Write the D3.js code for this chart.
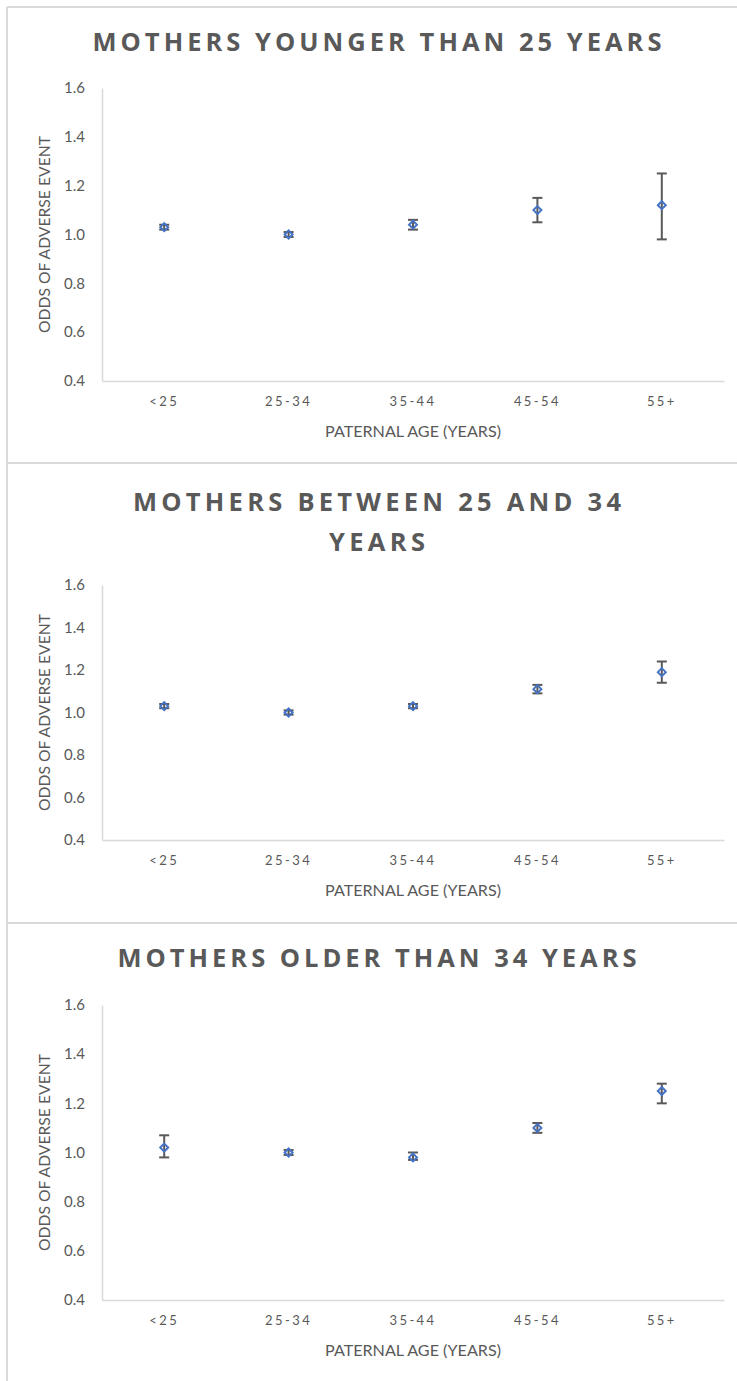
<!DOCTYPE html>
<html>
<head>
<meta charset="utf-8">
<script src="https://cdn.jsdelivr.net/npm/d3@7"></script>
<style>
  html, body { margin: 0; padding: 0; background: #fff; }
  svg { display: block; }
</style>
</head>
<body>
<svg id="chart" width="737" height="1381"></svg>
<script>
// Paternal age groups on the x axis
const categories = ["<25", "25-34", "35-44", "45-54", "55+"];
const yTicks = [0.4, 0.6, 0.8, 1.0, 1.2, 1.4, 1.6];

// Mothers younger than 25 years: odds and 95% interval
const oddsYoung = [1.03, 1.00, 1.04, 1.10, 1.12];
const lowYoung  = [1.02, 0.99, 1.02, 1.05, 0.98];
const highYoung = [1.04, 1.01, 1.06, 1.15, 1.25];

// Mothers between 25 and 34 years
const oddsMid = [1.03, 1.00, 1.03, 1.11, 1.19];
const lowMid  = [1.02, 0.99, 1.02, 1.09, 1.14];
const highMid = [1.04, 1.01, 1.04, 1.13, 1.24];

// Mothers older than 34 years
const oddsOld = [1.02, 1.00, 0.98, 1.10, 1.25];
const lowOld  = [0.98, 0.99, 0.97, 1.08, 1.20];
const highOld = [1.07, 1.01, 1.00, 1.12, 1.28];

const panelTitles = [
  ["MOTHERS YOUNGER THAN 25 YEARS"],
  ["MOTHERS BETWEEN 25 AND 34", "YEARS"],
  ["MOTHERS OLDER THAN 34 YEARS"]
];

const series = [
  { odds: oddsYoung, low: lowYoung, high: highYoung },
  { odds: oddsMid,   low: lowMid,   high: highMid },
  { odds: oddsOld,   low: lowOld,   high: highOld }
];

// Panel geometry (page coordinates) and rendered title widths
const panels = [
  { top: 7,   titleY: [51],       titleW: [569],      plotTop: 88,   plotBottom: 381 },
  { top: 463, titleY: [511, 551], titleW: [488, 96],  plotTop: 585,  plotBottom: 840 },
  { top: 923, titleY: [967],      titleW: [519],      plotTop: 1005, plotBottom: 1300 }
];

const svg = d3.select("#chart");
const textColor = "#595959";
const gridGray = "#d9d9d9";
const markerBlue = "#4472c4";
const plotLeft = 102, plotRight = 724;
const labelFont = "Lato, 'Open Sans', sans-serif";

// Outer frame and separators
svg.append("line").attr("x1", 7).attr("x2", 7).attr("y1", 7).attr("y2", 1381)
  .attr("stroke", gridGray).attr("stroke-width", 2);
panels.forEach(p => {
  svg.append("line").attr("x1", 7).attr("x2", 737).attr("y1", p.top).attr("y2", p.top)
    .attr("stroke", gridGray).attr("stroke-width", 2);
});

panels.forEach((p, i) => {
  const data = categories.map((c, j) => ({
    cat: c, odds: series[i].odds[j], low: series[i].low[j], high: series[i].high[j]
  }));

  const x = d3.scaleBand().domain(categories).range([plotLeft, plotRight]);
  const y = d3.scaleLinear().domain([0.4, 1.6]).range([p.plotBottom, p.plotTop]);
  const g = svg.append("g");

  // Title
  panelTitles[i].forEach((t, k) => {
    g.append("text")
      .attr("x", 377).attr("y", p.titleY[k])
      .attr("text-anchor", "middle")
      .attr("font-family", "'Open Sans', sans-serif")
      .attr("font-weight", 700)
      .attr("font-size", 25.5)
      .attr("textLength", p.titleW[k])
      .attr("lengthAdjust", "spacing")
      .attr("fill", textColor)
      .text(t);
  });

  // Y axis
  const yAxis = d3.axisLeft(y).tickValues(yTicks).tickFormat(d3.format(".1f")).tickSize(0).tickPadding(17);
  const ya = g.append("g").attr("transform", `translate(${plotLeft},0)`).call(yAxis);
  ya.select(".domain").attr("stroke", gridGray).attr("stroke-width", 1.5);
  ya.selectAll("text").attr("fill", textColor)
    .attr("font-family", labelFont).attr("font-size", 15);

  // X axis
  const xAxis = d3.axisBottom(x).tickSize(0).tickPadding(16);
  const xa = g.append("g").attr("transform", `translate(0,${p.plotBottom})`).call(xAxis);
  xa.select(".domain").attr("stroke", gridGray).attr("stroke-width", 1.5);
  xa.selectAll("text").attr("fill", textColor)
    .attr("font-family", labelFont).attr("font-size", 13)
    .attr("letter-spacing", 2.4);

  // Axis titles
  g.append("text")
    .attr("x", 413).attr("y", p.plotBottom + 56)
    .attr("text-anchor", "middle")
    .attr("font-family", labelFont).attr("font-size", 15)
    .attr("textLength", 176).attr("lengthAdjust", "spacingAndGlyphs")
    .attr("fill", textColor)
    .text("PATERNAL AGE (YEARS)");
  g.append("text")
    .attr("transform", `translate(50,${(p.plotTop + p.plotBottom) / 2}) rotate(-90)`)
    .attr("text-anchor", "middle")
    .attr("font-family", labelFont).attr("font-size", 15)
    .attr("textLength", 197).attr("lengthAdjust", "spacingAndGlyphs")
    .attr("fill", textColor)
    .text("ODDS OF ADVERSE EVENT");

  // Error bars
  const cx = d => x(d.cat) + x.bandwidth() / 2;
  const eb = g.append("g").attr("stroke", textColor).attr("stroke-width", 2);
  eb.selectAll(".stem").data(data).join("line")
    .attr("x1", cx).attr("x2", cx)
    .attr("y1", d => y(d.low)).attr("y2", d => y(d.high));
  eb.selectAll(".capHi").data(data).join("line")
    .attr("x1", d => cx(d) - 5).attr("x2", d => cx(d) + 5)
    .attr("y1", d => y(d.high)).attr("y2", d => y(d.high));
  eb.selectAll(".capLo").data(data).join("line")
    .attr("x1", d => cx(d) - 5).attr("x2", d => cx(d) + 5)
    .attr("y1", d => y(d.low)).attr("y2", d => y(d.low));

  // Diamond markers
  const diamond = d3.symbol().type(d3.symbolDiamond2).size(40);
  g.selectAll(".pt").data(data).join("path")
    .attr("transform", d => `translate(${cx(d)},${y(d.odds)})`)
    .attr("d", diamond)
    .attr("fill", "none")
    .attr("stroke", markerBlue)
    .attr("stroke-width", 2);
});
</script>
</body>
</html>
